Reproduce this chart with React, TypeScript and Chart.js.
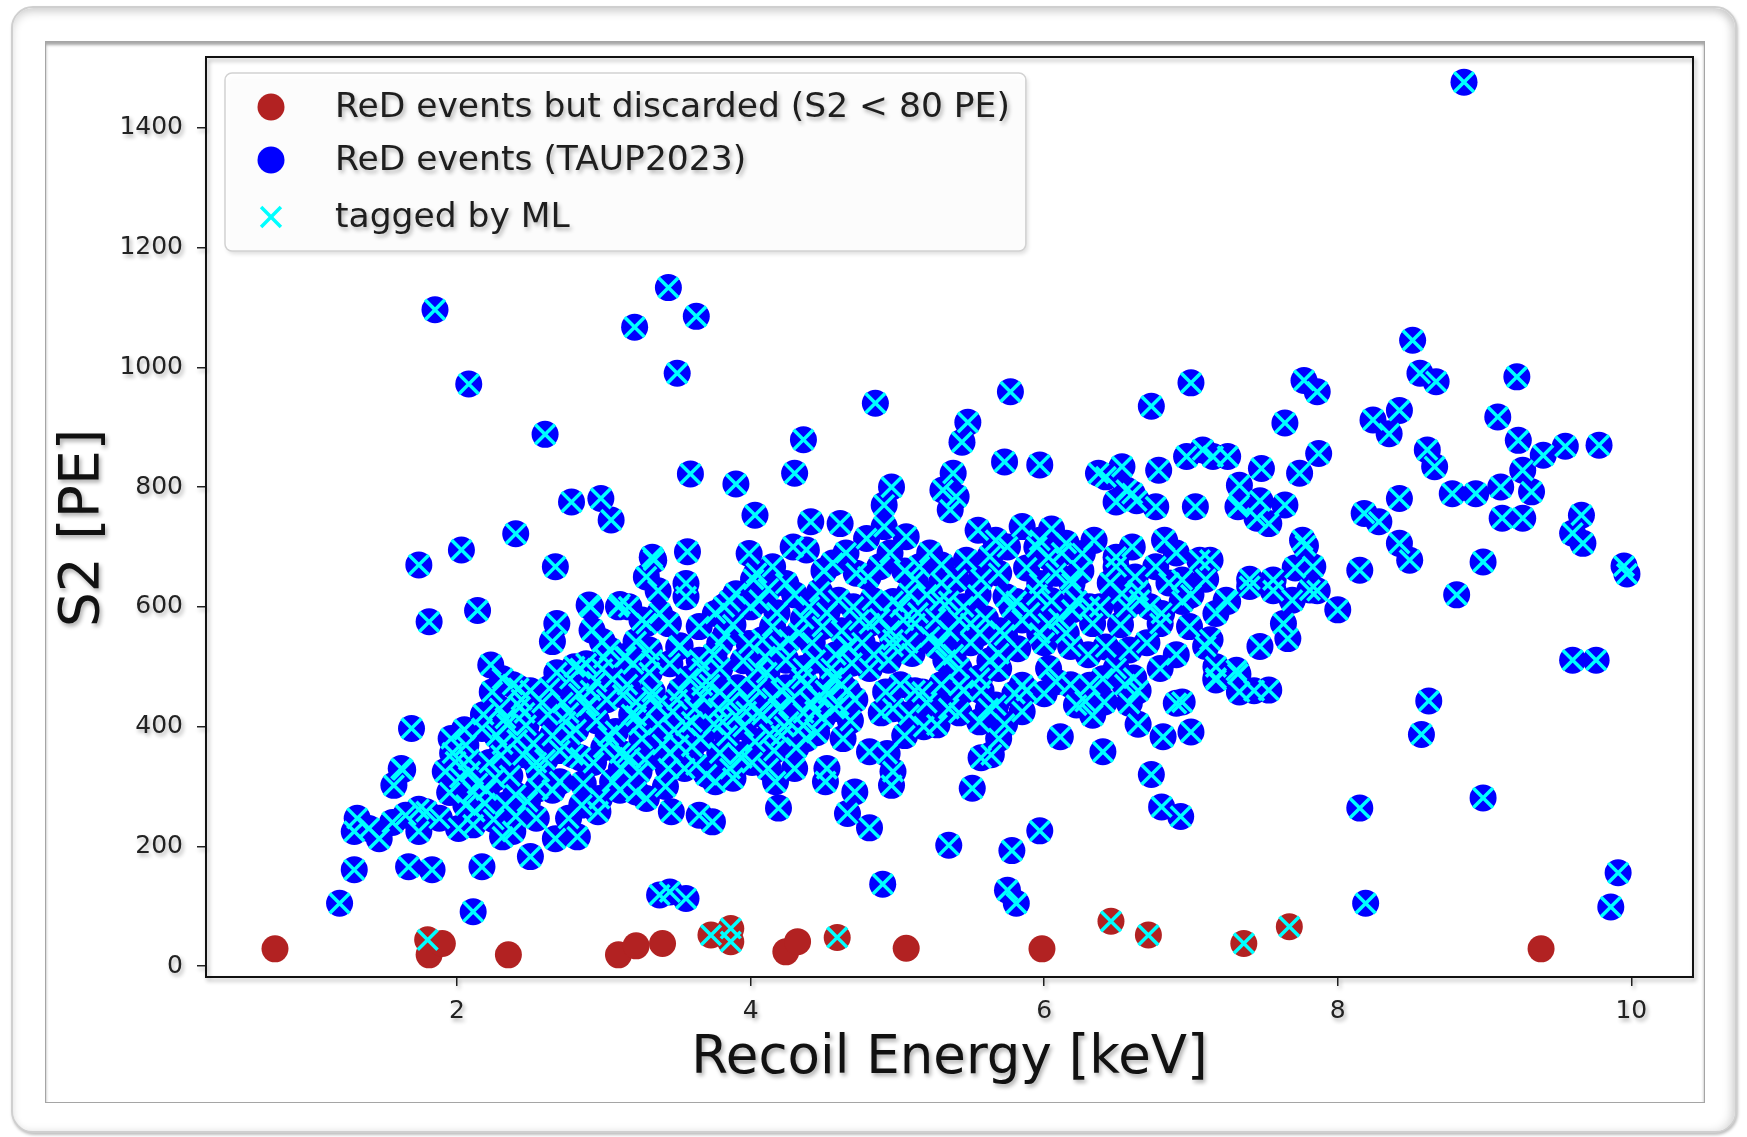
import React, { useEffect, useRef } from 'react';
import { Chart, registerables } from 'chart.js';

Chart.register(...registerables);

const FONT_FAMILY = "'DejaVu Sans', 'Liberation Sans', sans-serif";

// Events rejected by the S2 threshold: [recoil energy keV, S2 PE]
const discardedEvents: [number, number][] = [
  [0.76, 29], [1.80, 44], [1.81, 19], [1.90, 38], [2.35, 19], [3.10, 19], [3.22, 34],
  [3.40, 38], [3.73, 52], [3.865, 63], [3.865, 41], [4.24, 24], [4.32, 41], [4.59, 48],
  [5.06, 30], [5.985, 29], [6.455, 75], [6.71, 52], [7.36, 38], [7.67, 66], [9.385, 29],
];

// Discarded events that the ML classifier still tagged
const taggedDiscarded: [number, number][] = [
  [1.80, 44], [3.73, 52], [3.865, 63], [3.865, 41], [4.59, 48], [6.455, 75], [6.71, 52],
  [7.36, 38], [7.67, 66],
];

// Accepted events (TAUP2023 selection)
const taupEvents: [number, number][] = [
  // sparse high-S2 events
  [8.86, 1476], [1.85, 1096], [3.44, 1133], [3.21, 1067], [3.63, 1085], [8.51, 1045],
  [2.08, 972], [3.50, 990], [2.60, 888], [4.85, 940], [4.36, 879], [5.77, 959], [5.48, 908],
  [5.44, 875],
  // 1.7 - 3.7 keV, 500 - 830 PE
  [3.59, 822], [2.78, 775], [2.98, 781], [3.05, 745], [2.40, 722], [2.03, 695], [1.74, 670],
  [2.67, 667], [1.81, 575], [2.14, 594], [2.68, 572], [2.23, 503], [2.90, 603], [2.92, 561],
  [3.17, 600], [3.34, 678], [3.29, 650], [3.57, 692], [3.56, 639], [3.56, 617], [3.26, 578],
  [3.38, 589], [3.51, 533], [3.65, 567], [2.88, 505], [3.04, 528], [3.15, 517], [3.31, 528],
  [3.65, 511],
  // 3.7 - 7.1 keV, 500 - 980 PE
  [7.00, 974], [6.73, 935], [4.30, 823], [3.90, 805], [4.03, 753], [5.73, 842], [5.97, 837],
  [5.38, 823], [5.31, 795], [5.40, 784], [5.36, 762], [4.96, 800], [4.91, 770], [4.91, 734],
  [4.41, 742], [4.61, 739], [4.79, 714], [5.06, 717], [6.42, 817], [6.53, 834], [6.49, 775],
  [6.60, 789], [6.78, 828], [6.76, 767], [6.97, 851], [7.03, 767], [7.08, 862], [5.55, 728],
  [5.67, 711], [5.85, 734], [5.97, 711], [6.15, 706], [6.34, 711], [6.82, 711], [6.76, 667],
  [6.94, 645], [7.06, 678], [6.49, 667], [6.53, 622], [6.26, 689], [6.19, 639], [6.31, 600],
  [6.65, 611], [6.80, 589], [6.99, 567], [6.42, 533], [6.58, 528], [6.08, 656], [5.97, 639],
  [5.74, 617], [5.85, 578], [5.97, 556], [6.15, 556], [6.19, 595], [5.63, 684], [5.69, 656],
  [5.47, 678], [5.40, 645], [5.29, 611], [5.42, 578], [5.56, 556], [5.69, 522], [5.29, 539],
  [5.15, 667], [5.08, 622], [5.04, 578], [4.97, 545], [5.10, 522], [4.88, 667], [4.72, 656],
  [4.83, 611], [4.74, 578], [4.60, 611], [4.67, 533], [4.49, 567], [4.56, 673], [4.38, 695],
  [4.29, 700], [4.15, 667], [3.99, 689], [3.90, 622], [4.06, 611], [4.04, 656], [4.24, 639],
  [4.40, 600], [4.33, 556], [4.15, 567], [3.99, 539], [3.79, 539], [3.76, 589], [4.10, 517],
  [4.24, 511], [4.44, 511], [4.69, 506], [4.94, 511], [5.33, 511],
  [6.37, 823], [6.56, 795], [6.63, 777], [7.25, 851], [7.32, 767], [7.47, 777], [7.53, 739],
  // 7.1 - 10 keV
  [7.77, 978], [7.86, 959], [8.56, 990], [8.67, 976], [9.22, 984], [7.64, 907], [7.15, 851],
  [7.48, 831], [7.33, 803], [7.33, 770], [7.45, 748], [7.64, 770], [7.74, 823], [7.87, 856],
  [8.24, 912], [8.42, 928], [8.35, 889], [8.61, 862], [8.66, 834], [9.09, 917], [9.23, 878],
  [9.40, 853], [9.55, 868], [9.78, 870], [8.78, 789], [8.94, 789], [9.11, 800], [9.26, 828],
  [9.32, 792], [9.12, 748], [9.26, 748], [9.66, 753], [9.60, 723], [9.67, 706], [8.18, 756],
  [8.42, 781], [8.28, 742], [8.42, 706], [8.49, 678], [7.76, 711], [7.13, 678], [7.83, 667],
  [8.15, 661], [8.99, 675], [8.81, 620], [9.95, 668], [9.97, 655], [7.56, 645], [7.40, 634],
  [7.24, 611], [7.69, 611], [7.81, 628], [7.17, 589], [8.00, 595], [7.66, 547], [7.13, 545],
  [7.17, 500], [7.31, 494], [9.60, 511], [9.76, 511], [7.17, 481], [7.33, 458], [7.53, 461],
  [8.62, 443], [8.57, 387], [8.15, 264], [8.99, 281], [8.19, 105], [9.91, 156], [9.86, 99],
  // 3.7 - 7 keV, below 500 PE
  [5.27, 403], [5.51, 297], [5.35, 202], [4.90, 137], [5.78, 193], [5.97, 226], [5.75, 127],
  [5.81, 105], [6.11, 383], [6.40, 358], [6.73, 320], [6.80, 266], [6.93, 250], [6.81, 383],
  [7.00, 391], [6.90, 439], [6.58, 439], [6.61, 481], [6.28, 442], [6.33, 419], [6.22, 436],
  [4.17, 308], [4.19, 264], [4.52, 330], [4.51, 308], [4.71, 291], [4.66, 255], [4.81, 231],
  [4.96, 302], [4.97, 325], [4.81, 358], [4.93, 355], [4.63, 380], [4.38, 380], [3.74, 241],
  [3.88, 314], [5.56, 408], [5.69, 380], [5.64, 353], [5.67, 436], [5.85, 425], [4.97, 430],
  [5.17, 458], [4.92, 458], [5.42, 469], [5.56, 481], [5.85, 469], [6.08, 475], [6.31, 469],
  [3.81, 408], [3.97, 425], [4.15, 447], [4.38, 469], [4.56, 481], [3.92, 353], [4.26, 408],
  [4.44, 425], [4.60, 436], [4.04, 464], [3.79, 458], [3.76, 308],
  // 1.2 - 3.7 keV, below 500 PE
  [1.69, 397], [1.63, 328], [1.57, 302], [1.32, 247], [1.30, 225], [1.47, 213], [1.65, 252],
  [1.79, 258], [1.74, 225], [1.88, 247], [2.01, 230], [2.11, 236], [1.67, 166], [1.83, 161],
  [1.30, 161], [2.17, 166], [1.20, 105], [2.11, 91], [2.38, 225], [2.50, 183], [2.67, 213],
  [2.76, 247], [2.96, 258], [3.22, 291], [3.46, 258], [3.65, 252], [3.38, 119], [3.45, 124],
  [3.56, 113], [1.99, 341], [1.92, 325], [2.06, 369], [2.17, 397], [2.24, 458], [2.42, 464],
  [2.63, 464], [2.33, 414], [2.45, 353], [2.26, 314], [2.11, 291], [2.06, 269], [2.33, 269],
  [2.40, 286], [2.56, 325], [2.70, 308], [2.79, 353], [2.74, 408], [2.90, 436], [2.95, 475],
  [3.13, 453], [3.24, 403], [3.15, 353], [3.06, 308], [2.97, 280], [3.33, 458], [3.47, 425],
  [3.51, 369], [3.63, 336], [3.67, 469], [3.60, 408], [3.24, 325], [3.29, 280], [2.85, 269],
  [1.40, 230], [1.56, 240], [1.74, 262], [1.62, 330],
  [2.50, 460], [2.46, 423], [2.34, 404], [2.84, 497], [2.91, 600], [3.10, 600], [3.14, 516],
  [3.29, 572], [3.37, 627], [3.33, 683], [3.44, 572], [3.52, 535], [3.67, 497], [3.52, 460],
  [3.37, 404], [3.22, 441], [3.06, 479], [2.91, 460], [2.76, 423], [2.65, 385], [2.84, 348],
  [3.03, 385], [3.18, 348], [3.44, 330], [3.60, 367], [3.75, 404], [3.86, 441], [3.79, 497],
  [3.83, 553], [3.86, 609], [4.02, 646], [4.05, 423], [4.21, 460], [4.36, 423], [4.51, 460],
  [4.55, 497], [4.66, 534], [4.21, 385], [4.05, 497], [4.20, 534], [4.36, 497], [3.94, 348],
  [1.97, 356], [2.09, 325], [2.20, 294], [2.31, 371], [2.43, 433], [2.54, 340], [2.65, 294],
  [2.77, 387], [2.88, 433], [2.99, 496], [3.11, 356], [3.22, 418], [3.33, 449], [3.45, 356],
  [3.56, 402], [3.67, 449], [3.79, 356], [3.90, 418], [4.01, 340], [4.13, 387], [4.24, 465],
  [4.36, 402], [4.47, 449], [4.58, 480], [2.54, 247], [2.31, 216], [2.82, 216], [3.11, 294],
  [2.77, 480], [2.99, 542], [3.22, 542], [3.11, 604], [3.33, 511], [2.65, 542], [2.31, 480],
  // 4.5 - 7.9 keV, 340 - 700 PE
  [4.66, 460], [4.81, 497], [4.97, 534], [5.12, 572], [5.27, 534], [5.42, 497], [5.50, 572],
  [5.57, 646], [5.35, 609], [5.12, 646], [4.97, 609], [4.81, 572], [4.89, 423], [5.12, 460],
  [5.42, 423], [5.57, 460], [5.69, 497], [5.73, 553], [5.81, 609], [5.88, 665], [6.03, 683],
  [6.18, 646], [6.33, 572], [6.18, 534], [6.03, 497], [5.88, 460], [5.73, 404], [5.57, 348],
  [6.03, 572], [6.49, 683], [6.64, 627], [6.79, 572], [6.94, 609], [7.10, 646], [7.25, 609],
  [7.40, 646], [7.56, 627], [7.71, 665], [7.86, 627], [7.78, 702], [7.63, 572], [7.47, 534],
  [6.79, 497], [6.64, 460], [6.49, 497], [6.41, 441], [6.64, 404], [6.94, 441], [7.10, 534],
  [7.17, 478], [7.32, 488], [7.43, 460],
  // dense core, 1.9 - 2.6 keV
  [1.95, 290], [2.02, 315], [2.08, 345], [2.14, 305], [2.19, 272], [2.22, 340], [2.27, 385],
  [2.30, 352], [2.36, 318], [2.41, 378], [2.47, 402], [2.52, 372], [2.55, 296], [2.60, 345],
  [2.62, 420], [2.58, 440], [2.44, 445], [2.38, 470], [2.29, 430], [2.18, 420], [2.05, 395],
  [1.96, 380], [2.12, 258], [2.25, 245], [2.40, 250], [2.48, 275],
  // dense core, 2.6 - 3.7 keV
  [2.70, 360], [2.72, 440], [2.81, 395], [2.83, 455], [2.86, 305], [2.93, 340], [2.95, 410],
  [3.00, 365], [3.02, 445], [3.08, 392], [3.12, 330], [3.16, 470], [3.19, 420], [3.26, 380],
  [3.28, 345], [3.31, 490], [3.36, 435], [3.40, 370], [3.42, 300], [3.48, 395], [3.50, 445],
  [3.55, 330], [3.58, 480], [3.62, 430], [3.66, 380], [3.70, 320], [2.68, 490], [2.80, 500],
  [3.00, 515], [3.20, 505], [3.45, 505],
  // dense core, 3.7 - 4.7 keV
  [3.72, 470], [3.78, 430], [3.84, 385], [3.86, 330], [3.91, 465], [3.95, 400], [3.99, 440],
  [4.03, 375], [4.08, 420], [4.11, 490], [4.16, 360], [4.19, 430], [4.23, 400], [4.28, 445],
  [4.31, 365], [4.35, 480], [4.41, 440], [4.45, 390], [4.49, 415], [4.53, 455], [4.57, 430],
  [4.62, 470], [4.68, 410], [4.71, 445], [4.12, 330], [4.30, 330],
  // dense core, 3.7 - 5.3 keV upper band
  [3.75, 520], [3.82, 600], [3.88, 570], [3.95, 510], [4.00, 600], [4.08, 545], [4.12, 630],
  [4.18, 590], [4.26, 545], [4.30, 620], [4.36, 580], [4.42, 540], [4.47, 625], [4.52, 590],
  [4.58, 520], [4.62, 560], [4.70, 600], [4.76, 540], [4.84, 520], [4.88, 580], [4.95, 560],
  [5.02, 600], [5.07, 540], [5.14, 590], [5.20, 620], [5.22, 550], [5.26, 580], [5.30, 640],
  [5.02, 470], [5.08, 420], [5.20, 440], [5.30, 470], [5.35, 430], [5.05, 385], [5.18, 400],
  [4.50, 660], [4.65, 690], [4.80, 650], [4.95, 690], [5.05, 660], [5.22, 690], [5.30, 670],
  // dense core, 5.3 - 7.1 keV
  [5.35, 560], [5.38, 520], [5.45, 600], [5.50, 540], [5.55, 620], [5.60, 580], [5.63, 510],
  [5.70, 560], [5.78, 600], [5.82, 530], [5.90, 590], [5.95, 620], [6.00, 540], [6.05, 610],
  [6.10, 580], [6.12, 690], [6.22, 610], [6.25, 660], [6.30, 520], [6.38, 600], [6.45, 640],
  [6.52, 570], [6.56, 600], [6.62, 650], [6.70, 540], [6.72, 600], [6.85, 640], [6.90, 520],
  [7.00, 620], [5.45, 460], [5.62, 430], [5.80, 455], [6.00, 455], [6.18, 470], [6.40, 480],
  [6.55, 470], [5.95, 700], [6.05, 730], [5.75, 700], [6.60, 700], [6.90, 690],
];

const xTickValues = [2, 4, 6, 8, 10];
const yTickValues = [0, 200, 400, 600, 800, 1000, 1200, 1400];

const xAxisTitle = 'Recoil Energy [keV]';
const yAxisTitle = 'S2 [PE]';
const seriesLabels = ['ReD events but discarded (S2 < 80 PE)', 'ReD events (TAUP2023)', 'tagged by ML'];

const RED = '#b22222';
const BLUE = '#0000ff';
const CYAN = '#00ffff';
const MARKER_RADIUS = 13.5;
const CROSS_RADIUS = 14;
const CROSS_WIDTH = 3.5;

const toPoints = (rows: [number, number][]) => rows.map(([x, y]) => ({ x, y }));

function setShadow(ctx: CanvasRenderingContext2D, alpha = 0.32) {
  ctx.shadowColor = `rgba(0,0,0,${alpha})`;
  ctx.shadowBlur = 4;
  ctx.shadowOffsetX = 2;
  ctx.shadowOffsetY = 3;
}

function clearShadow(ctx: CanvasRenderingContext2D) {
  ctx.shadowColor = 'rgba(0,0,0,0)';
  ctx.shadowBlur = 0;
  ctx.shadowOffsetX = 0;
  ctx.shadowOffsetY = 0;
}

// Soft drop shadow under axis text and ticks; also paints the vertical axis title
const textShadowPlugin = {
  id: 'textShadow',
  beforeDraw(chart: any) {
    chart.ctx.save();
    setShadow(chart.ctx);
  },
  beforeDatasetsDraw(chart: any) {
    const { ctx, chartArea: a } = chart;
    const yScale = chart.scales.y;
    ctx.save();
    ctx.translate(yScale.left + 44, (a.top + a.bottom) / 2 + 11);
    ctx.rotate(-Math.PI / 2);
    ctx.font = `55px ${FONT_FAMILY}`;
    ctx.textAlign = 'center';
    ctx.textBaseline = 'middle';
    ctx.fillStyle = '#111';
    ctx.fillText(yAxisTitle, 0, 0);
    ctx.restore();
    ctx.restore();
  },
};

// Axes frame on top of the markers, plus a matplotlib-style legend box
const frameLegendPlugin = {
  id: 'frameLegend',
  afterDatasetsDraw(chart: any) {
    const { ctx, chartArea: a } = chart;
    ctx.save();
    setShadow(ctx);
    ctx.strokeStyle = '#111';
    ctx.lineWidth = 2;
    ctx.strokeRect(a.left, a.top, a.right - a.left, a.bottom - a.top);

    const fontSize = 34.5;
    ctx.font = `${fontSize}px ${FONT_FAMILY}`;
    const labels: string[] = chart.data.datasets.map((d: any) => d.label);
    const textW = Math.max(...labels.map((t) => ctx.measureText(t).width));
    const bx = a.left + 19;
    const by = a.top + 16;
    const textOffset = 110;
    const bw = textOffset + textW + 16;
    const bh = 178;
    const rows = [34, 87, 144];

    setShadow(ctx, 0.15);
    ctx.beginPath();
    ctx.roundRect(bx, by, bw, bh, 7);
    ctx.fillStyle = 'rgba(255,255,255,0.9)';
    ctx.fill();
    clearShadow(ctx);
    ctx.strokeStyle = '#d2d2d2';
    ctx.lineWidth = 1.5;
    ctx.stroke();

    const mx = bx + 46;
    chart.data.datasets.forEach((d: any, i: number) => {
      const cy = by + rows[i];
      clearShadow(ctx);
      if (d.pointStyle === 'crossRot') {
        const o = CROSS_RADIUS * Math.SQRT1_2;
        ctx.beginPath();
        ctx.moveTo(mx - o, cy - o);
        ctx.lineTo(mx + o, cy + o);
        ctx.moveTo(mx - o, cy + o);
        ctx.lineTo(mx + o, cy - o);
        ctx.strokeStyle = d.borderColor;
        ctx.lineWidth = CROSS_WIDTH;
        ctx.stroke();
      } else {
        ctx.beginPath();
        ctx.arc(mx, cy, MARKER_RADIUS, 0, Math.PI * 2);
        ctx.fillStyle = d.backgroundColor;
        ctx.fill();
      }
      setShadow(ctx, 0.3);
      ctx.fillStyle = '#1e1e1e';
      ctx.textBaseline = 'middle';
      ctx.textAlign = 'left';
      ctx.fillText(d.label, bx + textOffset, cy + 1);
    });
    ctx.restore();
  },
};

export default function App() {
  const canvasRef = useRef<HTMLCanvasElement | null>(null);

  useEffect(() => {
    const canvas = canvasRef.current;
    if (!canvas) return;
    const tickFont = { family: FONT_FAMILY, size: 25 };

    const chart = new Chart(canvas, {
      type: 'scatter',
      data: {
        datasets: [
          {
            label: seriesLabels[0],
            data: toPoints(discardedEvents),
            pointStyle: 'circle',
            pointRadius: MARKER_RADIUS,
            backgroundColor: RED,
            borderColor: RED,
            borderWidth: 0,
            order: 2,
          },
          {
            label: seriesLabels[1],
            data: toPoints(taupEvents),
            pointStyle: 'circle',
            pointRadius: MARKER_RADIUS,
            backgroundColor: BLUE,
            borderColor: BLUE,
            borderWidth: 0,
            order: 1,
          },
          {
            label: seriesLabels[2],
            data: toPoints([...taupEvents, ...taggedDiscarded]),
            pointStyle: 'crossRot',
            pointRadius: CROSS_RADIUS,
            backgroundColor: CYAN,
            borderColor: CYAN,
            borderWidth: CROSS_WIDTH,
            order: 0,
          },
        ],
      },
      options: {
        responsive: false,
        animation: false,
        events: [],
        layout: { padding: { left: 40, right: 54, top: 57, bottom: 40 } },
        plugins: {
          legend: { display: false },
          tooltip: { enabled: false },
        },
        scales: {
          x: {
            type: 'linear',
            min: 0.29,
            max: 10.42,
            afterBuildTicks: (s: any) => {
              s.ticks = xTickValues.map((value) => ({ value }));
            },
            afterFit: (s: any) => {
              s.height = 120;
            },
            grid: {
              display: true,
              drawOnChartArea: false,
              drawTicks: true,
              tickLength: 9,
              color: '#222',
              lineWidth: 1.5,
            },
            border: { display: false },
            ticks: {
              font: tickFont,
              color: '#222',
              padding: 10,
              maxRotation: 0,
              autoSkip: false,
              callback: (v: any) => String(v),
            },
            title: {
              display: true,
              text: xAxisTitle,
              font: { family: FONT_FAMILY, size: 53 },
              color: '#111',
              padding: { top: 0, bottom: 6 },
            },
          },
          y: {
            type: 'linear',
            min: -18,
            max: 1518,
            afterBuildTicks: (s: any) => {
              s.ticks = yTickValues.map((value) => ({ value }));
            },
            afterFit: (s: any) => {
              s.width = 166;
            },
            grid: {
              display: true,
              drawOnChartArea: false,
              drawTicks: true,
              tickLength: 9,
              color: '#222',
              lineWidth: 1.5,
            },
            border: { display: false },
            ticks: {
              font: tickFont,
              color: '#222',
              padding: 14,
              autoSkip: false,
              callback: (v: any) => String(v),
            },
            title: { display: false, text: yAxisTitle },
          },
        },
      },
      plugins: [textShadowPlugin, frameLegendPlugin],
    } as any);

    return () => chart.destroy();
  }, []);

  return (
    <div
      style={{
        position: 'fixed',
        left: 0,
        top: 0,
        width: 1747,
        height: 1137,
        background: '#ffffff',
        overflow: 'hidden',
      }}
    >
      <div
        style={{
          position: 'absolute',
          left: 11,
          top: 6,
          width: 1726,
          height: 1127,
          boxSizing: 'border-box',
          border: '2px solid #cfcfcf',
          borderRadius: 22,
          boxShadow: 'inset 0 5px 9px rgba(0,0,0,0.13), inset -5px 0 8px rgba(0,0,0,0.10), 1px 2px 3px rgba(0,0,0,0.25)',
          background: '#ffffff',
        }}
      />
      <div
        style={{
          position: 'absolute',
          left: 45,
          top: 41,
          width: 1660,
          height: 1062,
          boxSizing: 'border-box',
          border: '1px solid #a5a5a5',
          boxShadow: 'inset 0 3px 3px rgba(0,0,0,0.35)',
          background: '#ffffff',
        }}
      />
      <canvas
        ref={canvasRef}
        width={1747}
        height={1137}
        style={{ position: 'absolute', left: 0, top: 0, width: 1747, height: 1137 }}
      />
    </div>
  );
}
